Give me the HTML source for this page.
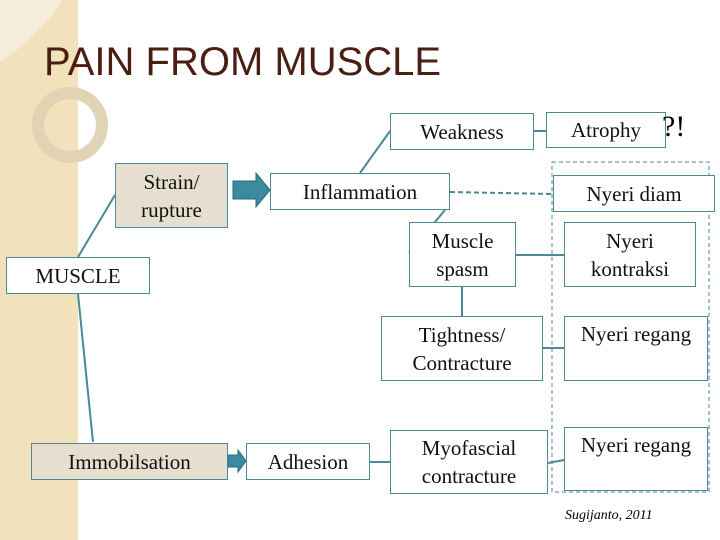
<!DOCTYPE html>
<html><head><style>
body{margin:0;width:720px;height:540px;overflow:hidden;background:#fff;position:relative;font-family:"Liberation Serif",serif}
.b{position:absolute;border:1.5px solid #4a8a96;box-sizing:border-box;background:#fff;display:flex;align-items:center;justify-content:center;text-align:center;font-size:21px;line-height:28px;color:#111}
.f{background:#e6dfcf}
</style></head><body>
<div style="position:absolute;left:0;top:0;width:78px;height:540px;background:#f1e2bb"></div>
<svg style="position:absolute;left:0;top:0" width="720" height="540">
<path d="M0 0 L62 0 Q40 35 0 62 Z" fill="#f6eedb"/>
<circle cx="70" cy="125" r="32" fill="none" stroke="#e0d4b4" stroke-width="12"/>
<g stroke="#4a8a96" stroke-width="2" fill="none">
<line x1="78" y1="257" x2="115" y2="195"/>
<line x1="78" y1="294" x2="93" y2="442"/>
<line x1="360" y1="173" x2="390" y2="131"/>
<line x1="445" y1="210" x2="409" y2="253"/>
<line x1="450" y1="192" x2="553" y2="194" stroke-dasharray="5 3"/>
<line x1="516" y1="255" x2="564" y2="255"/>
<line x1="462" y1="287" x2="462" y2="316"/>
<line x1="543" y1="348" x2="564" y2="348"/>
<line x1="370" y1="462" x2="390" y2="462"/>
<line x1="548" y1="463" x2="564" y2="460"/>
<line x1="534" y1="131" x2="546" y2="131"/>
<rect x="552" y="162" width="157" height="330" stroke-width="1" stroke-dasharray="4 3"/>
</g>
<path d="M233 181 L256 181 L256 173 L270 190 L256 207 L256 199 L233 199 Z" fill="#3a8aa0" stroke="#2a6a7a"/>
<path d="M228 455 L238 455 L238 450 L246 461 L238 472 L238 467 L228 467 Z" fill="#3a8aa0" stroke="#2a6a7a"/>
</svg>
<div style="position:absolute;left:44px;top:40px;font-family:'Liberation Sans',sans-serif;font-size:40px;color:#4a1e12">PAIN FROM MUSCLE</div>
<div class="b" style="left:390px;top:113px;width:144px;height:37px">Weakness</div>
<div class="b" style="left:546px;top:112px;width:120px;height:36px">Atrophy</div>
<div style="position:absolute;left:662px;top:110px;font-size:30px">?!</div>
<div class="b f" style="left:115px;top:163px;width:113px;height:65px">Strain/<br>rupture</div>
<div class="b" style="left:270px;top:173px;width:180px;height:37px">Inflammation</div>
<div class="b" style="left:553px;top:175px;width:162px;height:37px">Nyeri diam</div>
<div class="b" style="left:6px;top:257px;width:144px;height:37px">MUSCLE</div>
<div class="b" style="left:409px;top:222px;width:107px;height:65px">Muscle<br>spasm</div>
<div class="b" style="left:564px;top:222px;width:132px;height:65px">Nyeri<br>kontraksi</div>
<div class="b" style="left:381px;top:316px;width:162px;height:65px">Tightness/<br>Contracture</div>
<div class="b" style="left:564px;top:316px;width:144px;height:65px;align-items:flex-start;padding-top:3px">Nyeri regang</div>
<div class="b f" style="left:31px;top:443px;width:197px;height:37px">Immobilsation</div>
<div class="b" style="left:246px;top:443px;width:124px;height:37px">Adhesion</div>
<div class="b" style="left:390px;top:430px;width:158px;height:64px">Myofascial<br>contracture</div>
<div class="b" style="left:564px;top:427px;width:144px;height:64px;align-items:flex-start;padding-top:3px">Nyeri regang</div>
<div style="position:absolute;left:565px;top:508px;font-size:14px;font-style:italic">Sugijanto, 2011</div>
</body></html>
